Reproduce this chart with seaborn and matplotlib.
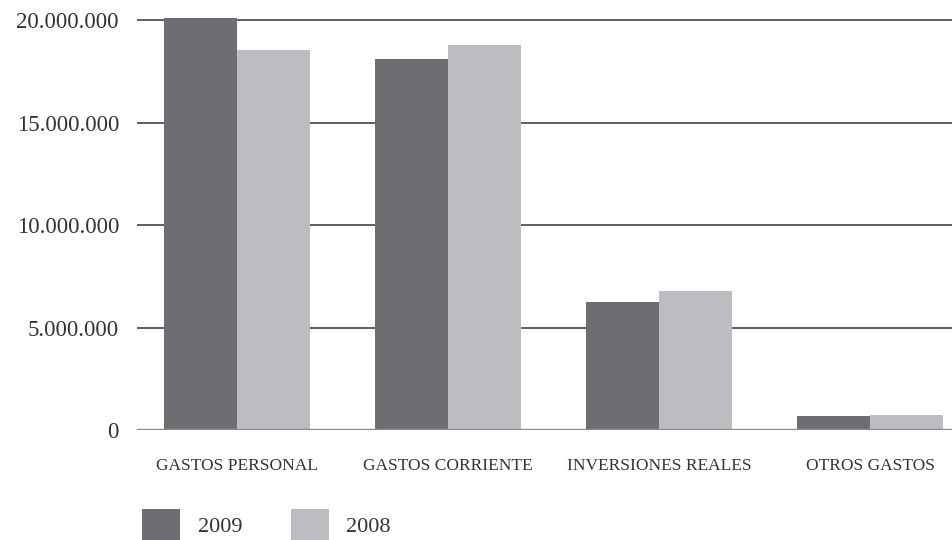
import pandas as pd
import matplotlib.pyplot as plt
import seaborn as sns
from matplotlib.patches import Patch
from matplotlib.ticker import FuncFormatter

# values
categorias = ["GASTOS PERSONAL", "GASTOS CORRIENTE", "INVERSIONES REALES", "OTROS GASTOS"]
valores_2009 = [20100000, 18100000, 6250000, 700000]
valores_2008 = [18550000, 18780000, 6780000, 730000]
anios = ["2009", "2008"]
colores = ["#6d6e71", "#bcbdc0"]
ticks_y = [0, 5000000, 10000000, 15000000, 20000000]

df = pd.DataFrame({
    "categoria": categorias * 2,
    "valor": valores_2009 + valores_2008,
    "anio": [anios[0]] * 4 + [anios[1]] * 4,
})

sns.set_style("white")
plt.rcParams["font.family"] = ["Liberation Serif", "DejaVu Serif"]

fig = plt.figure(figsize=(9.53, 5.40), dpi=100)
ax = fig.add_axes([0.1438, 0.2037, 0.8562, 0.774])

sns.barplot(data=df, x="categoria", y="valor", hue="anio", palette=colores,
            width=0.69, gap=0, linewidth=0, saturation=1, legend=False, ax=ax, zorder=3)

ax.set_xlim(-0.474, 3.393)
ax.set_ylim(0, 20400000)
ax.set_yticks(ticks_y)
ax.yaxis.set_major_formatter(FuncFormatter(lambda v, p: f"{int(v):,}".replace(",", ".")))

for t in ticks_y[1:]:
    ax.axhline(t, color="#333333", linewidth=1.1, zorder=1)
ax.axhline(0, color="#8a8a8a", linewidth=2.4, zorder=4)

for s in ax.spines.values():
    s.set_visible(False)
ax.tick_params(axis="y", length=0, pad=13, labelsize=16.5, labelcolor="#333333")
ax.tick_params(axis="x", length=0, pad=20, labelsize=12.5, labelcolor="#333333")
ax.set_xlabel("")
ax.set_ylabel("")

handles = [Patch(facecolor=c, edgecolor="none", label=a) for a, c in zip(anios, colores)]
fig.legend(handles=handles, loc="lower left", bbox_to_anchor=(0.128, -0.04), ncol=2,
           frameon=False, fontsize=16, handlelength=1.7, handleheight=1.9,
           handletextpad=0.8, columnspacing=2.2, labelcolor="#333333")

plt.savefig("out.png", dpi=100)
